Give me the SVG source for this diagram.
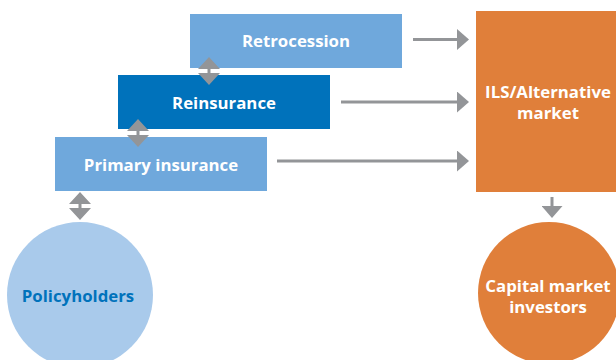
<svg xmlns="http://www.w3.org/2000/svg" width="616" height="360" viewBox="0 0 616 360">
<style>
text{font-family:"Open Sans","Noto Sans","Liberation Sans",sans-serif;font-weight:bold;font-size:16.8px;text-anchor:middle}
.w{fill:#ffffff}
.lb{fill:#6fa8dc}
.db{fill:#0072bb}
.or{fill:#e07f3a}
.ln{stroke:#939598;stroke-width:3;fill:none}
.hd{fill:#939598}
</style>
<defs>
<marker id="ah" markerWidth="4" markerHeight="7" refX="0" refY="3.5" orient="auto" markerUnits="strokeWidth"><path d="M0,0 L4,3.5 L0,7 Z" fill="#939598"/></marker>
<g id="dbl"><path d="M0,0 L11,12 L-11,12 Z M0,28 L11,16 L-11,16 Z" fill="#939598"/><rect x="-1.5" y="11" width="3" height="6" fill="#939598"/></g>
</defs>
<rect width="616" height="360" fill="#ffffff"/>
<g id="retrocession"><rect class="lb" x="190" y="14" width="212" height="54"/><text class="w" x="296" y="47">Retrocession</text></g>
<g id="reinsurance"><rect class="db" x="118" y="75" width="212" height="54"/><text class="w" x="224" y="109">Reinsurance</text></g>
<g id="primary"><rect class="lb" x="55" y="137" width="212" height="54"/><text class="w" x="161" y="171">Primary insurance</text></g>
<g id="policyholders"><circle cx="80" cy="295" r="73" fill="#a9caeb"/><text class="db" x="78" y="302">Policyholders</text></g>
<g id="ils"><rect class="or" x="476" y="11" width="142" height="181"/><text class="w" x="548" y="98">ILS/Alternative</text><text class="w" x="548" y="119">market</text></g>
<g id="investors"><circle class="or" cx="549" cy="293" r="71"/><text class="w" x="548" y="292">Capital market</text><text class="w" x="548" y="313">investors</text></g>
<g id="connectors">
<line class="ln" x1="413" y1="39.5" x2="457" y2="39.5" marker-end="url(#ah)"/>
<line class="ln" x1="341" y1="102" x2="457" y2="102" marker-end="url(#ah)"/>
<line class="ln" x1="277" y1="161" x2="457" y2="161" marker-end="url(#ah)"/>
<line class="ln" x1="552" y1="197" x2="552" y2="206" marker-end="url(#ah)"/>
<use href="#dbl" x="209" y="57"/>
<use href="#dbl" x="138" y="119"/>
<use href="#dbl" x="80" y="192"/>
</g>
</svg>
